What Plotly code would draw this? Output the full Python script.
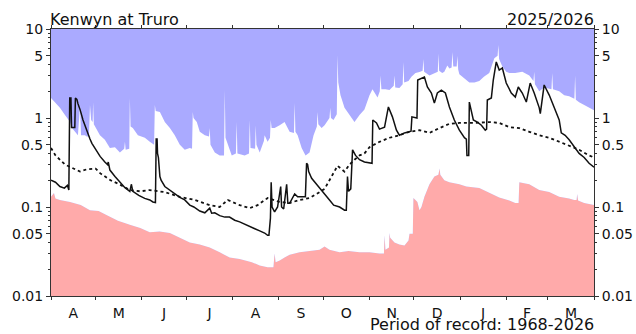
import plotly.graph_objects as go

# Kenwyn at Truro - daily mean flow (m3/s), water year 2025/2026 (day 0 = 1 April 2025)

# Daily maximum flow on record (upper edge of the white band)
max_day = [0, 2.7, 6, 9.4, 12.8, 14.1, 16.1, 18.1, 19.5, 20.2, 22.8, 24, 25.5, 26.2, 27, 28, 28.3, 28.8,
           32.9, 36.2, 39.6, 43, 46.3, 49.2, 49.7, 50.2, 52.6, 53, 53.5, 55, 58.4, 63.1, 66.4, 69.3, 69.8,
           70.4, 73.2, 76.5, 79.9, 83.2, 86.6, 89.9, 93.3, 94.8, 95.3, 95.8, 98, 100, 103.4, 106.2, 106.7,
           107.2, 110.1, 113.4, 116.3, 116.8, 117.3, 118.8, 121.5, 124.3, 124.8, 125.3, 130.2, 133.1, 133.6,
           134.1, 137.2, 137.6, 138.1, 140.3, 143.1, 143.6, 145.6, 147.2, 147.7, 148.3, 150.3, 153.7, 157,
           160.4, 163.3, 163.8, 164.3, 165.8, 168.5, 171.1, 173.8, 176.5, 178.7, 179.2, 179.7, 181.9, 183.9,
           187.2, 187.7, 188.2, 189.9, 192.1, 192.6, 193.1, 194.6, 197.3, 200.7, 202.7, 204, 207.4, 210.7,
           214.1, 216.1, 219.5, 221, 221.5, 222.1, 224.8, 227.5, 230.4, 230.9, 231.4, 234.2, 236.4, 236.9,
           237.4, 240.3, 242.3, 245, 247.7, 249.8, 250.3, 250.8, 254.4, 258, 260, 260.4, 260.9, 263, 264.4,
           266.4, 267.8, 269.3, 269.8, 270.4, 272.7, 273.2, 273.7, 274.5, 277.9, 281.2, 284.6, 287.9, 291,
           294.6, 298, 300.2, 300.7, 301.2, 303.4, 306, 308.1, 312, 316.8, 321.5, 324.3, 324.8, 325.3, 328.2,
           331.5, 334.9, 336.4, 336.9, 337.4, 341.6, 345, 348.3, 351.8, 352.3, 352.8, 355, 358.4, 361.7, 365]
max_flow = [1.68, 1.51, 1.30, 1.08, 0.90, 0.77, 0.70, 0.64, 1.40, 0.64, 0.64, 0.62, 0.62, 1.40, 0.95, 0.90, 1.50, 0.85,
            0.64, 0.57, 0.46, 0.47, 0.41, 0.45, 0.54, 0.44, 0.45, 1.68, 0.80, 0.77, 0.64, 0.60, 0.54, 0.50, 1.40,
            1.20, 1.17, 0.90, 0.77, 0.64, 0.50, 0.44, 0.46, 0.45, 1.17, 1.00, 0.90, 0.70, 0.64, 0.62, 0.77,
            0.50, 0.41, 0.38, 0.38, 2.06, 0.60, 0.50, 0.38, 0.40, 0.90, 0.40, 0.38, 0.40, 0.95,
            0.46, 0.45, 0.83, 0.50, 0.41, 0.55, 0.64, 0.54, 0.60, 0.95, 0.77, 0.77, 0.83, 0.90,
            0.70, 0.68, 1.47, 0.70, 0.64, 0.46, 0.38, 0.41, 0.64, 0.80, 1.17, 0.85, 0.77, 0.83,
            1.00, 1.30, 1.00, 0.95, 1.10, 5.10, 2.50, 1.80, 1.30, 1.08, 0.95, 0.90, 1.08, 1.25,
            1.80, 2.10, 1.70, 2.00, 3.00, 2.10, 2.10, 2.06, 2.30, 3.00, 2.20, 2.17, 2.40, 4.26,
            2.50, 2.60, 2.90, 3.20, 3.29, 3.40, 4.60, 3.30, 3.00, 3.20, 3.30, 5.30, 3.40, 3.20, 3.30,
            3.90, 3.60, 3.70, 5.50, 3.80, 3.80, 5.00, 3.50, 3.10, 2.80, 2.50, 2.50, 2.60, 2.90,
            3.20, 4.70, 5.00, 6.60, 4.60, 3.80, 3.30, 3.20, 3.20, 3.30, 3.00, 2.60, 3.30, 2.40, 2.00,
            2.20, 2.10, 2.10, 3.20, 2.10, 2.00, 1.80, 1.75, 1.65, 3.00, 1.60, 1.50, 1.40, 1.30, 1.22]

# Daily minimum flow on record (top of the red band)
min_day = [0, 2, 3, 6, 12.8, 20, 26.2, 32, 37.6, 45, 53, 60, 66.4, 73, 79.9, 86.6, 93.3, 100, 106.7, 113.4,
           120.1, 126.8, 130.2, 135, 140.3, 145.6, 149.5, 150.3, 151, 153.7, 157, 160.4, 167.1, 173.8, 180.5,
           183.9, 187.2, 194, 200, 207.4, 214.1, 220.8, 223.8, 224.2, 224.8, 227.2, 227.5, 228, 230.9, 234.2,
           237.6, 240.3, 241, 243.2, 243.6, 245, 246.3, 247.7, 249, 251, 254.4, 257.7, 260.4, 261.2, 261.7,
           264.4, 267.8, 274.5, 279.2, 287.9, 294.6, 301.3, 308.1, 312.1, 314.3, 314.8, 318.1, 321.5, 328.2,
           334.9, 341.6, 348.3, 351.7, 353.3, 353.7, 354.3, 358.4, 365]
min_flow = [0.130, 0.144, 0.125, 0.120, 0.114, 0.105, 0.092, 0.090, 0.081, 0.070, 0.063, 0.058, 0.052, 0.053,
            0.051, 0.045, 0.040, 0.038, 0.035, 0.031, 0.027, 0.026, 0.025, 0.024, 0.022, 0.021, 0.021, 0.030,
            0.024, 0.025, 0.027, 0.029, 0.031, 0.032, 0.033, 0.036, 0.033, 0.031, 0.032, 0.031, 0.031, 0.030,
            0.030, 0.048, 0.033, 0.035, 0.051, 0.045, 0.040, 0.038, 0.037, 0.042, 0.050, 0.050, 0.126, 0.120,
            0.114, 0.092, 0.100, 0.130, 0.180, 0.220, 0.230, 0.270, 0.230, 0.200, 0.190, 0.180, 0.170, 0.163,
            0.144, 0.128, 0.118, 0.111, 0.111, 0.190, 0.185, 0.180, 0.155, 0.147, 0.130, 0.125, 0.120, 0.120,
            0.140, 0.118, 0.111, 0.105]

# Long-term mean daily flow (dotted line)
mean_day = [0, 3, 9.4, 16, 19.5, 24, 30, 33, 40, 46, 53, 60, 66.4, 76.5, 86.6, 96.6, 106.7, 113.4, 118.8,
            126.8, 133.6, 138.9, 145.6, 153.7, 160.4, 167.1, 173.8, 180.5, 183.9, 187.2, 192.6, 197.3, 200.7,
            204, 207.4, 210.7, 214.1, 220.8, 227.5, 234.2, 240.9, 247.7, 254.4, 261.1, 267.8, 274.5, 279.9,
            284.6, 294.6, 301.3, 308.1, 314.8, 321.5, 328.2, 334.9, 341.6, 348.3, 355, 361.7, 365]
mean_flow = [0.46, 0.38, 0.30, 0.27, 0.25, 0.265, 0.27, 0.24, 0.20, 0.18, 0.155, 0.15, 0.155, 0.147, 0.130,
             0.120, 0.105, 0.100, 0.120, 0.105, 0.097, 0.105, 0.126, 0.114, 0.111, 0.120, 0.126, 0.147, 0.160,
             0.200, 0.290, 0.250, 0.300, 0.340, 0.380, 0.400, 0.470, 0.540, 0.600, 0.640, 0.700, 0.730, 0.680,
             0.770, 0.860, 0.880, 0.880, 0.880, 0.900, 0.880, 0.790, 0.770, 0.700, 0.640, 0.600, 0.540, 0.480,
             0.440, 0.380, 0.360]

# Flow in 2025/2026 (solid line)
flow_day = [0, 3, 6, 9, 11, 12, 12.6, 13.4, 13.8, 16.0, 16.4, 17.4, 18.1, 19.5, 21.5, 22.8, 24.2, 26.2,
            27.5, 29.5, 31.5, 33, 36.2, 38, 38.5, 39.6, 43, 46.3, 49.7, 53, 54, 55, 56.4, 59, 63, 66.4, 68.5,
            70.2, 70.7, 71.3, 71.6, 72.2, 73.2, 74, 76.5, 79.9, 83.2, 86.6, 89.9, 93.3, 96, 100, 103.4, 106.7,
            108, 110.1, 113.4, 116.8, 120, 123.5, 126.8, 130, 133.6, 137, 140.3, 143.6, 145.6, 146.5, 147.5,
            148, 148.6, 150.3, 152.3, 154.4, 155, 156.4, 158.4, 159.2, 160.4, 161.5, 163.8, 165.8, 167.1,
            169.8, 171, 171.8, 172.5, 173.2, 175.2, 178.5, 181.9, 183.9, 187.2, 190, 194, 197.3, 198.5, 199.3,
            200, 201.5, 202.7, 204.7, 207.4, 210.7, 214.1, 215.8, 216.3, 218.8, 220.8, 224.2, 226.8, 229.5,
            232.2, 234.2, 237.6, 240.9, 242, 242.6, 245, 246, 246.5, 249, 251, 253, 255.7, 257.7, 259.7,
            262.4, 265.1, 267.8, 271.1, 274.5, 277.9, 279.2, 279.6, 280.8, 281.2, 283.9, 286.6, 289.3, 291.9,
            292.8, 293.3, 296, 297.3, 299.3, 301.3, 303.4, 306, 309.4, 312.1, 314.1, 316.8, 319.5, 322.1,
            324.8, 328.2, 328.9, 331.5, 334.9, 338.3, 341.6, 343, 345.6, 348.3, 351.7, 355, 358.4, 361.7, 365]
flow = [0.20, 0.19, 0.17, 0.163, 0.175, 0.155, 1.68, 1.68, 0.78, 0.78, 1.68, 1.62, 1.45, 1.25, 0.95, 0.82, 0.70, 0.58,
        0.52, 0.46, 0.40, 0.37, 0.32, 0.30, 0.32, 0.26, 0.22, 0.19, 0.165, 0.15, 0.18, 0.15, 0.144, 0.135, 0.125, 0.12, 0.114,
        0.112, 0.58, 0.58, 0.40, 0.36, 0.22, 0.20, 0.17, 0.155, 0.14, 0.128, 0.12, 0.105, 0.10, 0.09, 0.086, 0.097,
        0.085, 0.086, 0.080, 0.077, 0.077, 0.071, 0.068, 0.064, 0.060, 0.057, 0.054, 0.051, 0.048, 0.048, 0.075,
        0.19, 0.10, 0.088, 0.10, 0.17, 0.10, 0.095, 0.18, 0.11, 0.11, 0.12, 0.14, 0.13, 0.13,
        0.13, 0.13, 0.31, 0.30, 0.25, 0.21, 0.18, 0.155, 0.14, 0.12, 0.105, 0.10, 0.092, 0.092, 0.22,
        0.15, 0.16, 0.44, 0.38, 0.34, 0.32, 0.31, 0.31, 0.95, 0.88, 0.75, 0.79, 1.33, 1.03,
        0.73, 0.64, 0.68, 0.71, 0.71, 1.03, 1.00, 1.00, 2.67, 2.81, 2.89, 2.23, 1.91, 1.47, 1.91,
        2.06, 1.91, 1.33, 0.95, 0.73, 0.60, 0.58, 0.38, 0.38, 1.51, 0.95, 0.90, 0.83, 0.73,
        0.75, 1.59, 1.68, 2.67, 4.26, 3.46, 3.65, 2.47, 1.91, 1.72, 2.23, 1.91, 1.51, 2.47,
        1.91, 1.30, 1.12, 2.35, 1.81, 1.30, 0.95, 0.68, 0.64, 0.57, 0.47, 0.40, 0.36, 0.31, 0.28]

# Axis furniture
month_edges = [0, 30, 61, 91, 122, 153, 183, 214, 244, 275, 306, 334, 365]
month_labels = ["A", "M", "J", "J", "A", "S", "O", "N", "D", "J", "F", "M"]
y_ticks = [0.01, 0.05, 0.1, 0.5, 1, 5, 10]
y_tick_text = ["0.01", "0.05", "0.1", "0.5", "1", "5", "10"]
y_minor = [m * 10 ** e for e in (-2, -1, 0) for m in range(2, 10)]

BLUE = "#aaaaff"
RED = "#ffaaaa"
INK = "#111111"
FONT = "DejaVu Sans"

month_mid = [(a + b) / 2 for a, b in zip(month_edges[:-1], month_edges[1:])]
floor = y_ticks[0] / 2

fig = go.Figure()
# red band: from below the axis floor up to the record minimum
fig.add_trace(go.Scatter(x=[month_edges[0], month_edges[-1]], y=[floor, floor], mode="lines",
                         line=dict(width=0), hoverinfo="skip", showlegend=False))
fig.add_trace(go.Scatter(x=min_day, y=min_flow, mode="lines", line=dict(width=0, color=RED),
                         fill="tonexty", fillcolor=RED, hoverinfo="skip", showlegend=False))
# white band between record minimum and maximum (blue background shows above)
fig.add_trace(go.Scatter(x=max_day, y=max_flow, mode="lines", line=dict(width=0, color="white"),
                         fill="tonexty", fillcolor="white", hoverinfo="skip", showlegend=False))
# long-term mean
fig.add_trace(go.Scatter(x=mean_day, y=mean_flow, mode="lines",
                         line=dict(color=INK, width=1.8, dash="3px,3px"), showlegend=False))
# current year
fig.add_trace(go.Scatter(x=flow_day, y=flow, mode="lines",
                         line=dict(color=INK, width=1.5), showlegend=False))
# carrier for the mirrored right/top axes
fig.add_trace(go.Scatter(x=mean_day, y=mean_flow, mode="lines", opacity=0, xaxis="x2", yaxis="y2",
                         hoverinfo="skip", showlegend=False))

yax = dict(type="log", range=[-2, 1], tickmode="array", tickvals=y_ticks, ticktext=y_tick_text,
           ticks="outside", ticklen=4, tickwidth=1, tickcolor="#333", automargin=False,
           minor=dict(tickmode="array", tickvals=y_minor, ticks="outside", ticklen=2, tickcolor="#333"),
           showgrid=False, zeroline=False, showline=True, linecolor="#333", linewidth=1,
           tickfont=dict(family=FONT, size=14, color=INK))

fig.update_layout(
    width=636, height=334,
    margin=dict(l=51, r=42, t=29, b=38, autoexpand=False),
    plot_bgcolor=BLUE, paper_bgcolor="white",
    xaxis=dict(range=[month_edges[0], month_edges[-1]], tickmode="array", tickvals=month_mid,
               ticktext=month_labels, ticks="outside", ticklen=4, tickcolor="rgba(0,0,0,0)",
               minor=dict(tickmode="array", tickvals=month_edges, ticks="outside", ticklen=3,
                          tickcolor="#333"),
               automargin=False,
               showgrid=False, zeroline=False, showline=True, linecolor="#333", linewidth=1,
               tickfont=dict(family=FONT, size=14, color=INK)),
    xaxis2=dict(range=[month_edges[0], month_edges[-1]], overlaying="x", side="top",
                tickmode="array", tickvals=month_edges, ticks="outside", ticklen=3, tickcolor="#333",
                showticklabels=False, showgrid=False, zeroline=False, showline=True,
                linecolor="#333", linewidth=1, automargin=False),
    yaxis=dict(yax, side="left"),
    yaxis2=dict(yax, side="right", overlaying="y"),
    showlegend=False,
    annotations=[
        dict(text="Kenwyn at Truro", xref="paper", yref="paper", x=0, y=1, xanchor="left",
             yanchor="bottom", showarrow=False, font=dict(family=FONT, size=16, color=INK),
             xshift=-3, yshift=-2),
        dict(text="2025/2026", xref="paper", yref="paper", x=1, y=1, xanchor="right",
             yanchor="bottom", showarrow=False, font=dict(family=FONT, size=16, color=INK),
             xshift=2, yshift=-2),
        dict(text="Period of record: 1968-2026", xref="paper", yref="paper", x=1, y=0,
             xanchor="right", yanchor="middle", showarrow=False,
             font=dict(family=FONT, size=16, color=INK), xshift=2, yshift=-28),
    ],
)

fig.write_html("out.html")
